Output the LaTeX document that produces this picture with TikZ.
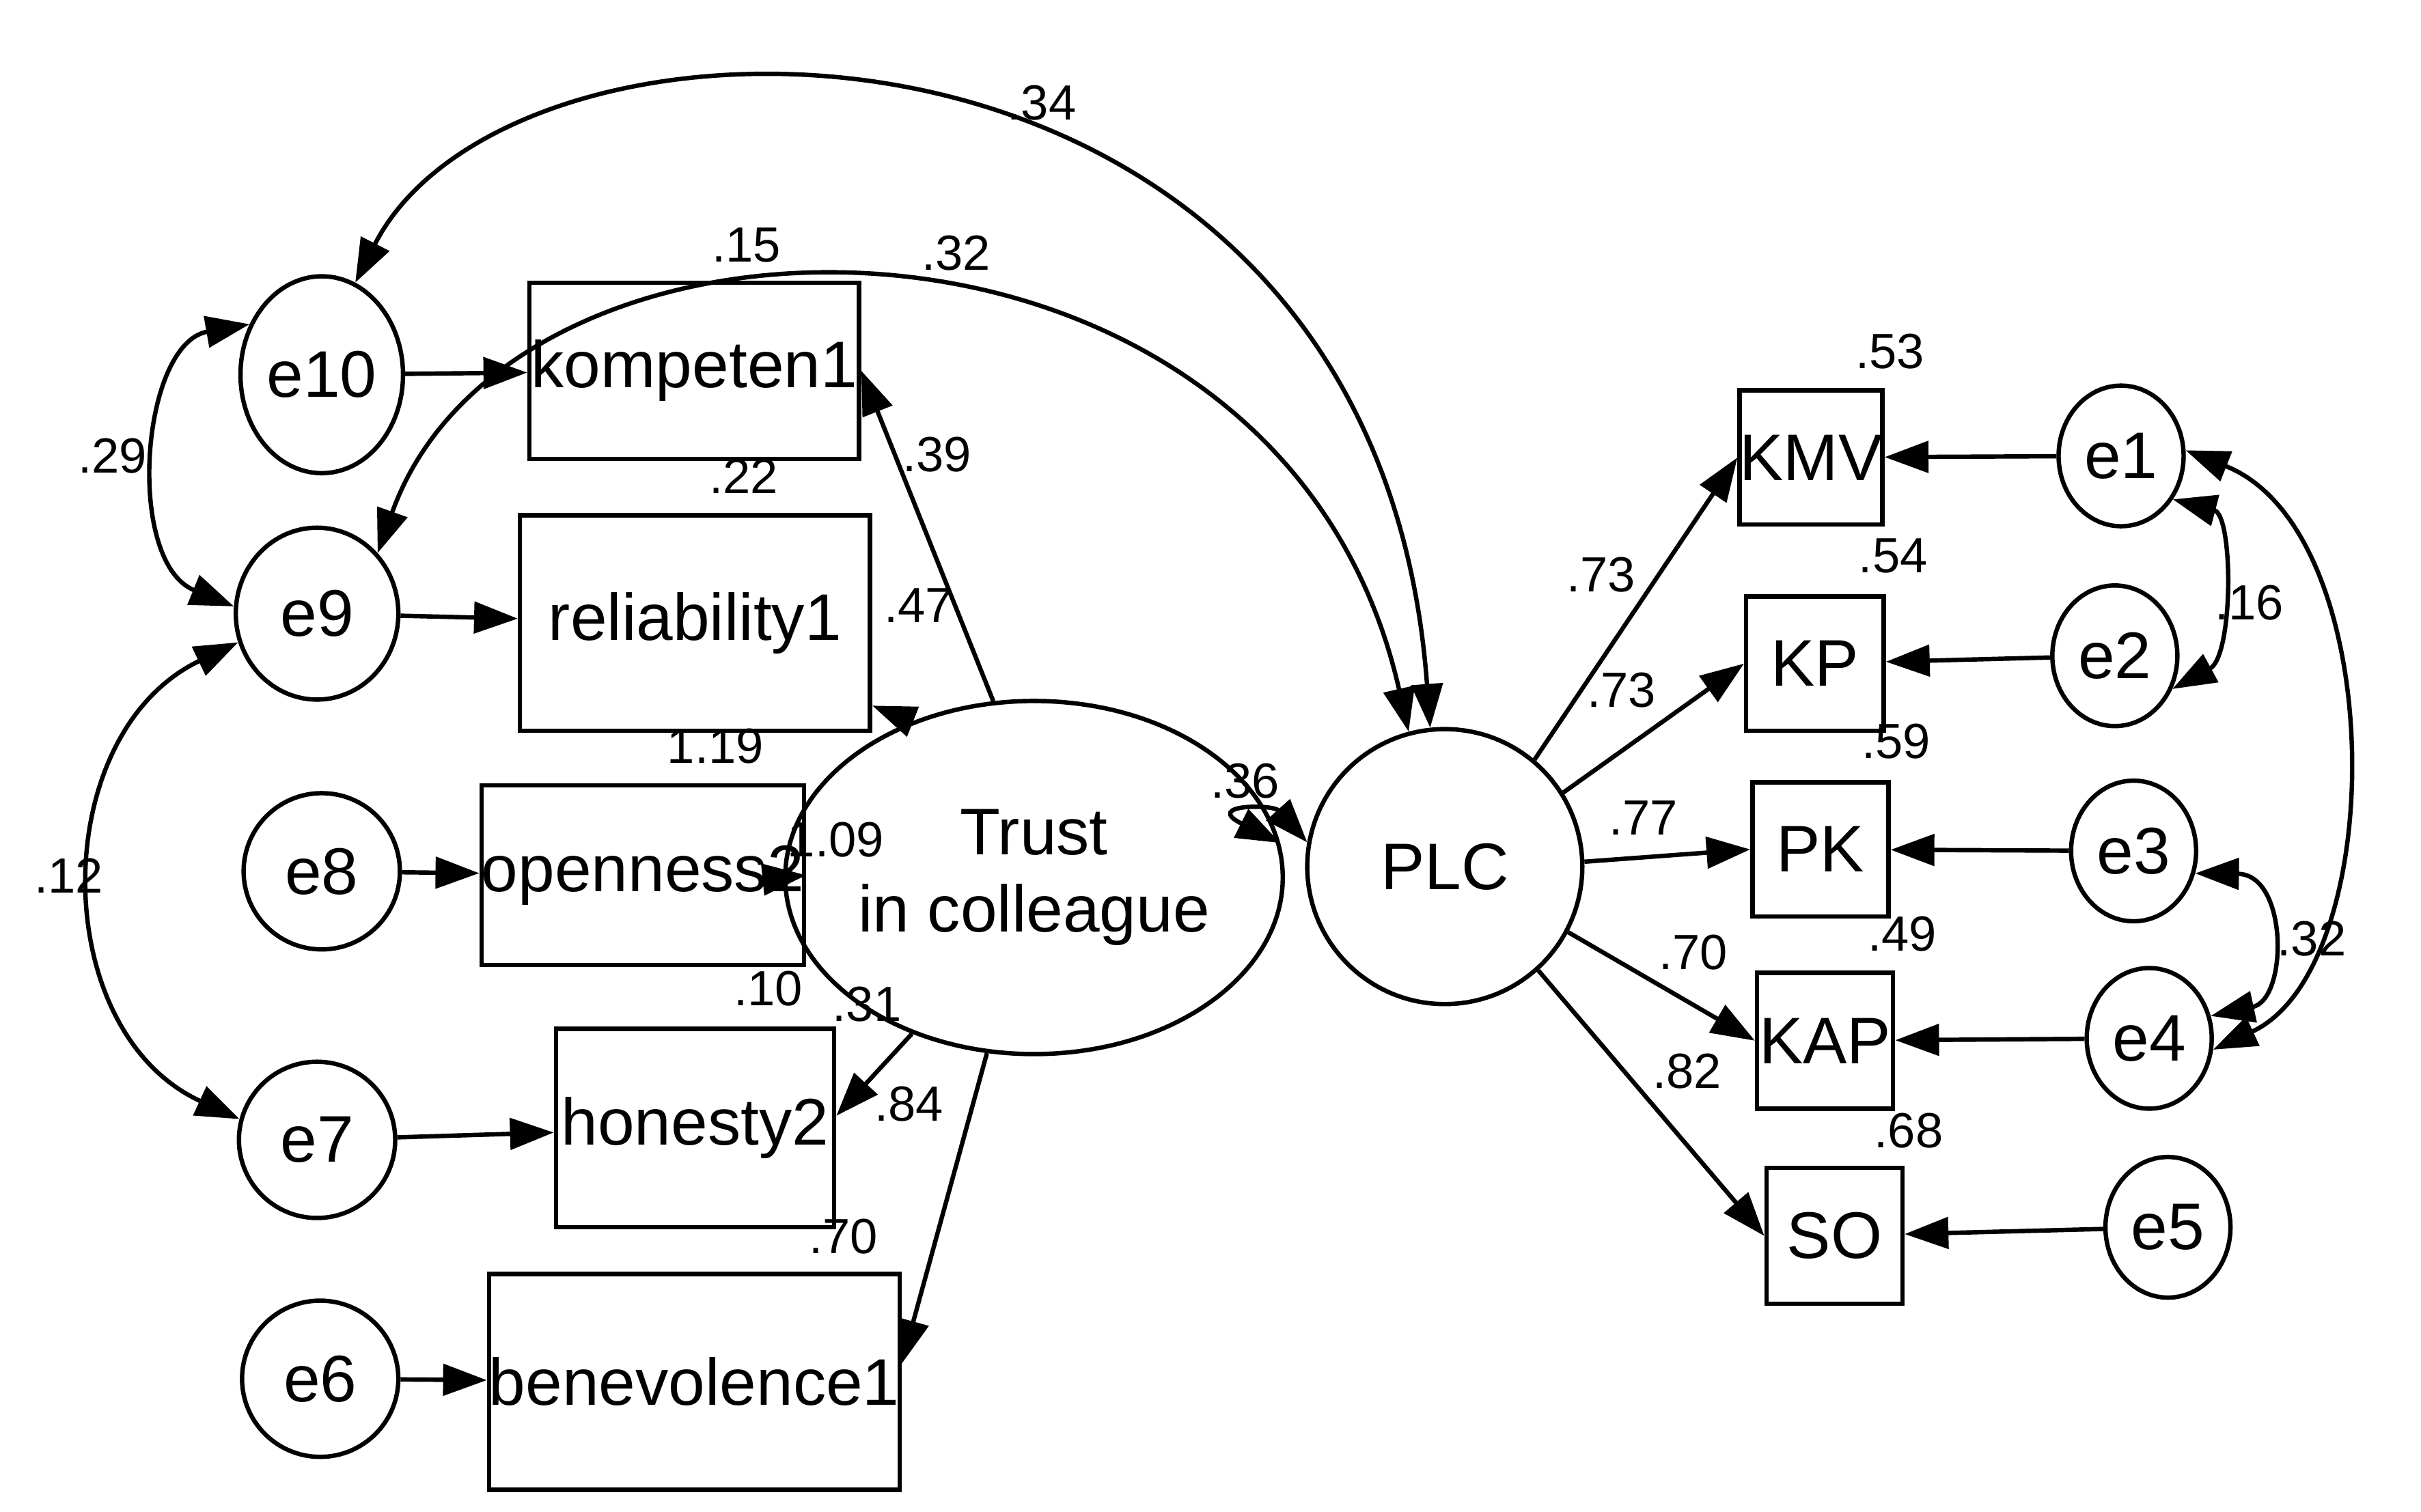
\documentclass[tikz,border=0pt]{standalone}
\usepackage{fontspec}
\setmainfont{Liberation Sans}
\usetikzlibrary{shapes.geometric, arrows.meta}

\tikzset{
    err/.style={ellipse, draw, thick, minimum width=1.0cm, minimum height=1.0cm, inner sep=0pt, font=\large},
    obs/.style={rectangle, draw, thick, inner sep=0pt, font=\large},
    lat/.style={ellipse, draw, thick, inner sep=0pt, font=\large, align=center},
    path/.style={thick, -{Triangle[length=2.8mm,width=2mm]}},
    cov/.style={thick, {Triangle[length=2.8mm,width=2mm]}-{Triangle[length=2.8mm,width=2mm]}},
    est/.style={font=\small, inner sep=0pt},
}

\begin{document}
\begin{tikzpicture}[x=0.01cm, y=-0.01cm]
    \useasboundingbox (0,0) rectangle (1550,968);

    % latent variables
    \node[lat, minimum width=1.7cm, minimum height=2.26cm] (trust) at (662,562) {Trust\\in colleague};
    \node[lat, minimum width=1.76cm, minimum height=1.76cm] (plc) at (925,555) {PLC};

    % indicators left
    \node[obs, minimum width=2.11cm, minimum height=1.13cm] (komp) at (444.5,237.5) {kompeten1};
    \node[obs, minimum width=2.24cm, minimum height=1.38cm] (reli) at (445,399) {reliability1};
    \node[obs, minimum width=1.85cm, minimum height=1.15cm] (open) at (411.5,560.5) {openness2};
    \node[obs, minimum width=1.78cm, minimum height=1.27cm] (hone) at (445,722.5) {honesty2};
    \node[obs, minimum width=2.45cm, minimum height=1.38cm] (bene) at (444.5,885) {benevolence1};

    % errors left
    \node[err, minimum width=1.04cm, minimum height=1.26cm] (e10) at (206,240) {e10};
    \node[err, minimum width=1.04cm, minimum height=1.1cm] (e9) at (203,393) {e9};
    \node[err] (e8) at (206,558) {e8};
    \node[err] (e7) at (203,730) {e7};
    \node[err] (e6) at (205,883) {e6};

    % indicators right
    \node[obs, minimum width=0.87cm, minimum height=0.86cm] (kmv) at (1159.5,293) {KMV};
    \node[obs, minimum width=0.88cm, minimum height=0.86cm] (kp) at (1162,425) {KP};
    \node[obs, minimum width=0.87cm, minimum height=0.86cm] (pk) at (1165.5,544) {PK};
    \node[obs, minimum width=0.87cm, minimum height=0.87cm] (kap) at (1168.5,666.5) {KAP};
    \node[obs, minimum width=0.87cm, minimum height=0.87cm] (so) at (1174.5,791.5) {SO};

    % errors right
    \node[err, minimum width=0.8cm, minimum height=0.9cm] (e1) at (1358,292) {e1};
    \node[err, minimum width=0.8cm, minimum height=0.9cm] (e2) at (1354,420) {e2};
    \node[err, minimum width=0.8cm, minimum height=0.9cm] (e3) at (1366,545) {e3};
    \node[err, minimum width=0.8cm, minimum height=0.9cm] (e4) at (1376,665) {e4};
    \node[err, minimum width=0.8cm, minimum height=0.9cm] (e5) at (1388,786) {e5};

    % loadings
    \draw[path] (trust.103) -- (komp.east);
    \draw[path] (trust.128) -- (reli.-25);
    \draw[path] (trust.west) -- (open.east);
    \draw[path] (trust.-128) -- (hone.5);
    \draw[path] (trust.-105) -- (bene.5);
    \draw[path] (plc.50) -- (kmv.west);
    \draw[path] (plc.32) -- (kp.west);
    \draw[path] (plc.2) -- (pk.west);
    \draw[path] (plc.-28) -- (kap.west);
    \draw[path] (plc.-48) -- (so.west);

    \draw[path] (e10) -- (komp);
    \draw[path] (e9) -- (reli);
    \draw[path] (e8) -- (open);
    \draw[path] (e7) -- (hone);
    \draw[path] (e6) -- (bene);
    \draw[path] (e1) -- (kmv);
    \draw[path] (e2) -- (kp);
    \draw[path] (e3) -- (pk);
    \draw[path] (e4) -- (kap);
    \draw[path] (e5) -- (so);

    % covariances
    \draw[cov] (e10.70) .. controls (330,-20) and (880,-20) .. (plc.96);
    \draw[cov] (e9.45) .. controls (330,107) and (820,107) .. (plc.105);
    \draw[cov] (e10.145) .. controls (90,220) and (80,360) .. (e9.175);
    \draw[cov] (e9.200) .. controls (30,470) and (30,660) .. (e7.165);
    \draw[cov] (trust.8) .. controls (770,515) and (815,515) .. (plc.170);
    \draw[cov] (e1.-40) .. controls (1430,330) and (1430,420) .. (e2.-30);
    \draw[cov] (e3.-20) .. controls (1465,560) and (1465,640) .. (e4.20);
    \draw[cov] (e1.5) .. controls (1530,340) and (1530,620) .. (e4.-10);

    % estimates
    \node[est] (l34) at (667,66) {.34};
    \node[est] (l15) at (478,157) {.15};
    \node[est] (l32a) at (612,162) {.32};
    \node[est] (l22) at (476,305) {.22};
    \node[est] (l119) at (458,478) {1.19};
    \node[est] (l10) at (492,633) {.10};
    \node[est] (l70a) at (540,792) {.70};
    \node[est] (l39) at (600,291) {.39};
    \node[est] (l47) at (588,388) {.47};
    \node[est] (l109) at (535,538) {1.09};
    \node[est] (l31) at (555,643) {.31};
    \node[est] (l84) at (582,707) {.84};
    \node[est] (l29) at (72,292) {.29};
    \node[est] (l12) at (44,561) {.12};
    \node[est] (l36) at (797,500) {.36};
    \node[est] (l53) at (1210,225) {.53};
    \node[est] (l54) at (1212,356) {.54};
    \node[est] (l59) at (1214,475) {.59};
    \node[est] (l49) at (1218,598) {.49};
    \node[est] (l68) at (1222,724) {.68};
    \node[est] (l73a) at (1025,368) {.73};
    \node[est] (l73b) at (1038,442) {.73};
    \node[est] (l77) at (1052,524) {.77};
    \node[est] (l70b) at (1084,610) {.70};
    \node[est] (l82) at (1080,686) {.82};
    \node[est] (l16) at (1440,386) {.16};
    \node[est] (l32b) at (1480,601) {.32};
\end{tikzpicture}
\end{document}
